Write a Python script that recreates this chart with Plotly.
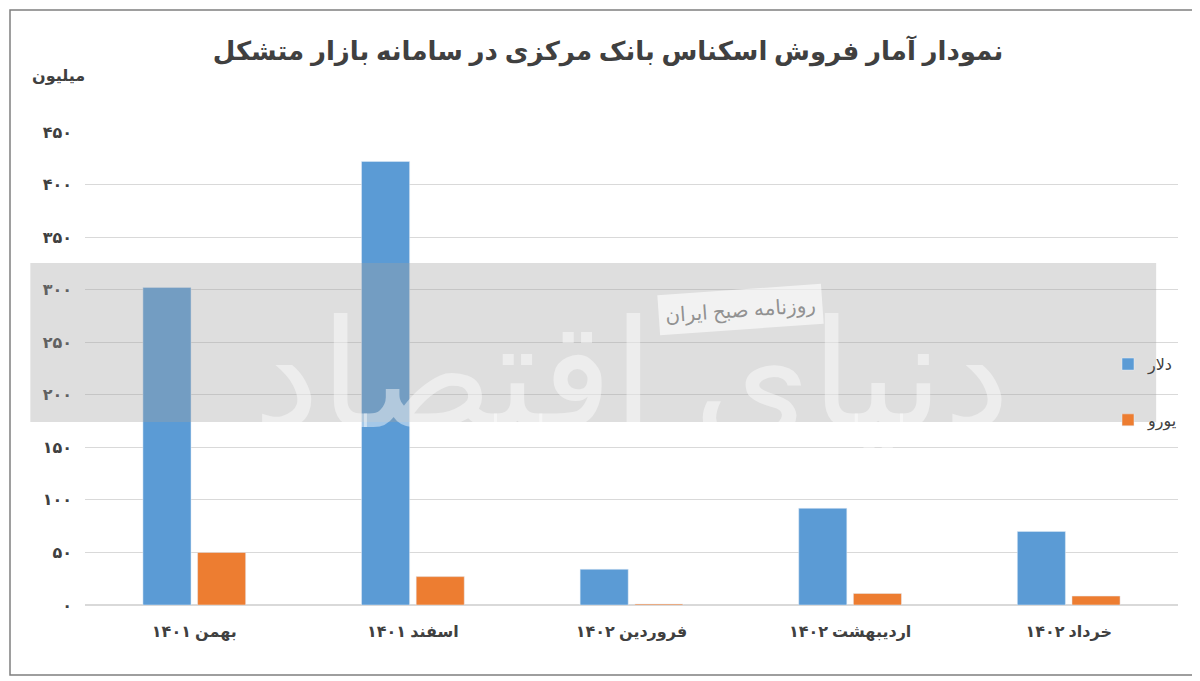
import plotly.graph_objects as go

categories = ["بهمن ۱۴۰۱", "اسفند ۱۴۰۱", "فروردین ۱۴۰۲", "اردیبهشت ۱۴۰۲", "خرداد ۱۴۰۲"]
dollar = [302, 422, 34, 92, 70]
euro = [50, 27, 1, 11, 8.5]
tick_vals = [0, 50, 100, 150, 200, 250, 300, 350, 400, 450]
tick_text = ["۰", "۵۰", "۱۰۰", "۱۵۰", "۲۰۰", "۲۵۰", "۳۰۰", "۳۵۰", "۴۰۰", "۴۵۰"]

font = "Noto Sans, DejaVu Sans"
fig = go.Figure()
fig.add_bar(x=categories, y=dollar, name="دلار", marker_color="#5B9BD5", legendgroup="a")
fig.add_bar(x=categories, y=euro, name="یورو", marker_color="#ED7D31", legendgroup="b")

T, B, L, R = 124, 84, 77, 30
H = 681 - T - B
W = 1200 - L - R
fig.update_layout(
    width=1200, height=681,
    paper_bgcolor="white", plot_bgcolor="white",
    margin=dict(l=L, r=R, t=T, b=B),
    bargap=0.5, bargroupgap=0.12,
    font=dict(family=font, size=15, color="#404040"),
    title=dict(text="<b>نمودار آمار فروش اسکناس بانک مرکزی در سامانه بازار متشکل</b>",
               x=0.5, y=0.95, xanchor="center", font=dict(size=26, color="#404040")),
    legend=dict(x=(1100 - L) / W, y=0.45, xanchor="left", yanchor="middle",
                font=dict(size=16, color="#404040"), bgcolor="rgba(0,0,0,0)",
                tracegroupgap=32, traceorder="grouped"),
    showlegend=True,
)
fig.update_yaxes(range=[0, 450], tickvals=tick_vals, ticktext=tick_text,
                 showgrid=True, gridcolor="#D9D9D9", zeroline=True, zerolinecolor="#D9D9D9",
                 ticks="", tickfont=dict(size=16, color="#404040", weight="bold"), ticklabelstandoff=12)
fig.update_xaxes(showline=False, tickfont=dict(size=16, color="#404040", weight="bold"), ticklabelstandoff=15)

fig.add_shape(type="rect", xref="paper", yref="paper", x0=-0.05, x1=0.98,
              y0=(604-421)/473, y1=(604-262)/473, fillcolor="rgba(160,160,160,0.35)",
              line_width=0, layer="above")
fig.add_annotation(text="روزنامه صبح ایران", xref="paper", yref="paper", x=0.6, y=(604-282)/473,
                   showarrow=False, font=dict(size=20, color="rgba(120,120,120,0.8)"),
                   bgcolor="rgba(255,255,255,0.6)", borderpad=6, textangle=-4)
fig.add_annotation(text="دنیای اقتصاد", xref="paper", yref="paper", x=0.5, y=0.5,
                   showarrow=False, font=dict(size=150, color="rgba(255,255,255,0.45)"))
fig.add_annotation(text="<b>میلیون</b>", xref="paper", yref="paper", x=-55/W, y=1 + 70/H,
                   xanchor="left", showarrow=False, font=dict(size=16, color="#404040"))
fig.add_shape(type="rect", xref="paper", yref="paper", x0=-(L - 2)/W, x1=1 + (R - 8)/W,
              y0=-(B - 14)/H, y1=1 + (T - 2)/H, line=dict(color="#7F7F7F", width=1.5))

fig.write_html("out.html")
